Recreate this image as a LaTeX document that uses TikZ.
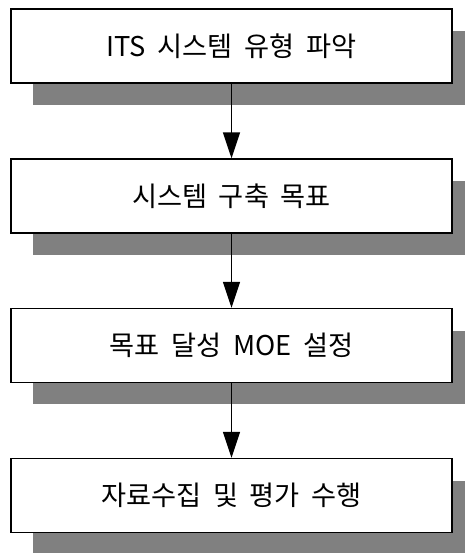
\documentclass[tikz,border=0pt]{standalone}
\usepackage{fontspec}
\setmainfont[WordSpace=1.9]{Noto Sans CJK KR}
\usepackage{tikz}
\usetikzlibrary{arrows.meta,shadows}

\tikzset{
  stage/.style={rectangle, draw, line width=0.8pt, fill=white,
    minimum width=8.82cm, minimum height=1.48cm,
    font=\fontsize{15.5pt}{18pt}\selectfont,
    drop shadow={shadow xshift=0.44cm, shadow yshift=-0.44cm, fill=black!50, opacity=1}},
  flow/.style={line width=0.8pt, >={Triangle[length=0.52cm,width=0.34cm]}, ->}
}

\begin{document}
\begin{tikzpicture}[x=0.02cm,y=-0.02cm]
\useasboundingbox (0,0) rectangle (465,553);

\node[stage] (T1) at (231.5,46) {ITS 시스템 유형 파악};
\node[stage] (T2) at (231.5,196) {시스템 구축 목표};
\node[stage] (T3) at (231.5,345.5) {목표 달성 MOE 설정};
\node[stage] (T4) at (231.5,495.5) {자료수집 및 평가 수행};

\draw[flow] (T1) -- (T2);
\draw[flow] (T2) -- (T3);
\draw[flow] (T3) -- (T4);

\end{tikzpicture}
\end{document}
